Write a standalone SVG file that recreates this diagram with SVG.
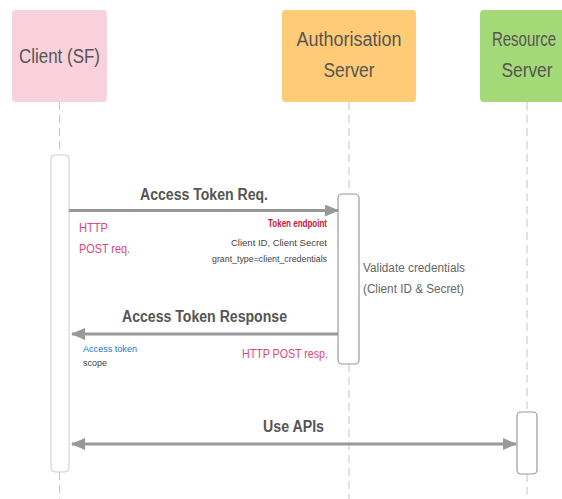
<svg xmlns="http://www.w3.org/2000/svg" width="562" height="499" viewBox="0 0 562 499">
<style>
.hdr{font-family:"Liberation Sans",Arial,sans-serif;font-size:20px;fill:#555;text-anchor:middle}
.msg{font-family:"Liberation Sans",Arial,sans-serif;font-size:16px;font-weight:bold;fill:#555;text-anchor:middle}
.life{stroke:#c4c4c4;stroke-width:1;stroke-dasharray:8 5;fill:none}
.bar{fill:#fff;stroke:#999;stroke-width:1.2}
.arr{stroke:#999;stroke-width:3;fill:none}
.pink{font-family:"Liberation Sans",Arial,sans-serif;font-size:12px;fill:#e0457b}
.red{font-family:"Liberation Sans",Arial,sans-serif;font-size:10px;font-weight:bold;fill:#c8143c}
.sm{font-family:"Liberation Sans",Arial,sans-serif;font-size:9px;fill:#444}
.note{font-family:"Liberation Sans",Arial,sans-serif;font-size:12px;fill:#666}
.blue{font-family:"Liberation Sans",Arial,sans-serif;font-size:9px;fill:#1a78c2}
</style>
<defs>
<marker id="ah" markerUnits="userSpaceOnUse" markerWidth="14" markerHeight="12" refX="13" refY="6" orient="auto-start-reverse">
<path d="M0,0 L14,6 L0,12 Z" fill="#999"/>
</marker>
</defs>
<g id="lifelines">
<line class="life" x1="59.5" y1="102" x2="59.5" y2="155"/>
<line class="life" x1="59.5" y1="472" x2="59.5" y2="499"/>
<line class="life" x1="349" y1="102" x2="349" y2="194"/>
<line class="life" x1="349" y1="364" x2="349" y2="499"/>
<line class="life" x1="527" y1="102" x2="527" y2="412"/>
<line class="life" x1="527" y1="474" x2="527" y2="499"/>
</g>
<g id="client">
<rect x="12" y="10" width="95" height="92" rx="4" fill="#f8d1dd"/>
<text class="hdr" x="59.5" y="63" textLength="81" lengthAdjust="spacingAndGlyphs">Client (SF)</text>
</g>
<g id="auth">
<rect x="282" y="10" width="134" height="92" rx="4" fill="#ffcb76"/>
<text class="hdr" x="349" y="46" textLength="105" lengthAdjust="spacingAndGlyphs">Authorisation</text>
<text class="hdr" x="349" y="77" textLength="51" lengthAdjust="spacingAndGlyphs">Server</text>
</g>
<g id="resource">
<rect x="480" y="10" width="82" height="92" rx="4" fill="#a4d978"/>
<rect x="552" y="10" width="10" height="92" fill="#a4d978"/>
<text class="hdr" transform="translate(524,46) scale(0.75,1)" x="0" y="0">Resource</text>
<text class="hdr" x="527" y="77" textLength="51" lengthAdjust="spacingAndGlyphs">Server</text>
</g>
<g id="client-activation">
<rect x="51" y="155" width="18" height="317" rx="4" fill="#fff" stroke="#ccc" stroke-width="1"/>
</g>
<g id="auth-activation">
<rect class="bar" x="338" y="194" width="21" height="170" rx="4"/>
</g>
<g id="resource-activation">
<rect class="bar" x="517" y="412" width="20" height="62" rx="4"/>
</g>
<g id="connectors">
<line class="arr" x1="69" y1="210.5" x2="338" y2="210.5" marker-end="url(#ah)"/>
<line class="arr" x1="338" y1="334" x2="72" y2="334" marker-end="url(#ah)"/>
<line class="arr" x1="72" y1="444" x2="516" y2="444" marker-start="url(#ah)" marker-end="url(#ah)"/>
</g>
<g id="labels">
<text class="msg" x="204" y="200" textLength="128" lengthAdjust="spacingAndGlyphs">Access Token Req.</text>
<text class="pink" x="79" y="232" textLength="29" lengthAdjust="spacingAndGlyphs">HTTP</text>
<text class="pink" x="79" y="253" textLength="51" lengthAdjust="spacingAndGlyphs">POST req.</text>
<text class="red" x="327" y="227" text-anchor="end" textLength="59" lengthAdjust="spacingAndGlyphs">Token endpoint</text>
<text class="sm" x="327" y="246" text-anchor="end" textLength="96" lengthAdjust="spacingAndGlyphs">Client ID, Client Secret</text>
<text class="sm" x="327" y="262" text-anchor="end" textLength="115" lengthAdjust="spacingAndGlyphs">grant_type=client_credentials</text>
<text class="note" x="363" y="272" textLength="102" lengthAdjust="spacingAndGlyphs">Validate credentials</text>
<text class="note" x="363" y="293" textLength="101" lengthAdjust="spacingAndGlyphs">(Client ID &amp; Secret)</text>
<text class="msg" x="204.5" y="322" textLength="165" lengthAdjust="spacingAndGlyphs">Access Token Response</text>
<text class="blue" x="83" y="352" textLength="54" lengthAdjust="spacingAndGlyphs">Access token</text>
<text class="sm" x="83" y="366" textLength="24" lengthAdjust="spacingAndGlyphs">scope</text>
<text class="pink" x="328" y="358" text-anchor="end" textLength="86" lengthAdjust="spacingAndGlyphs">HTTP POST resp.</text>
<text class="msg" x="293.5" y="432" textLength="61" lengthAdjust="spacingAndGlyphs">Use APIs</text>
</g>
</svg>
